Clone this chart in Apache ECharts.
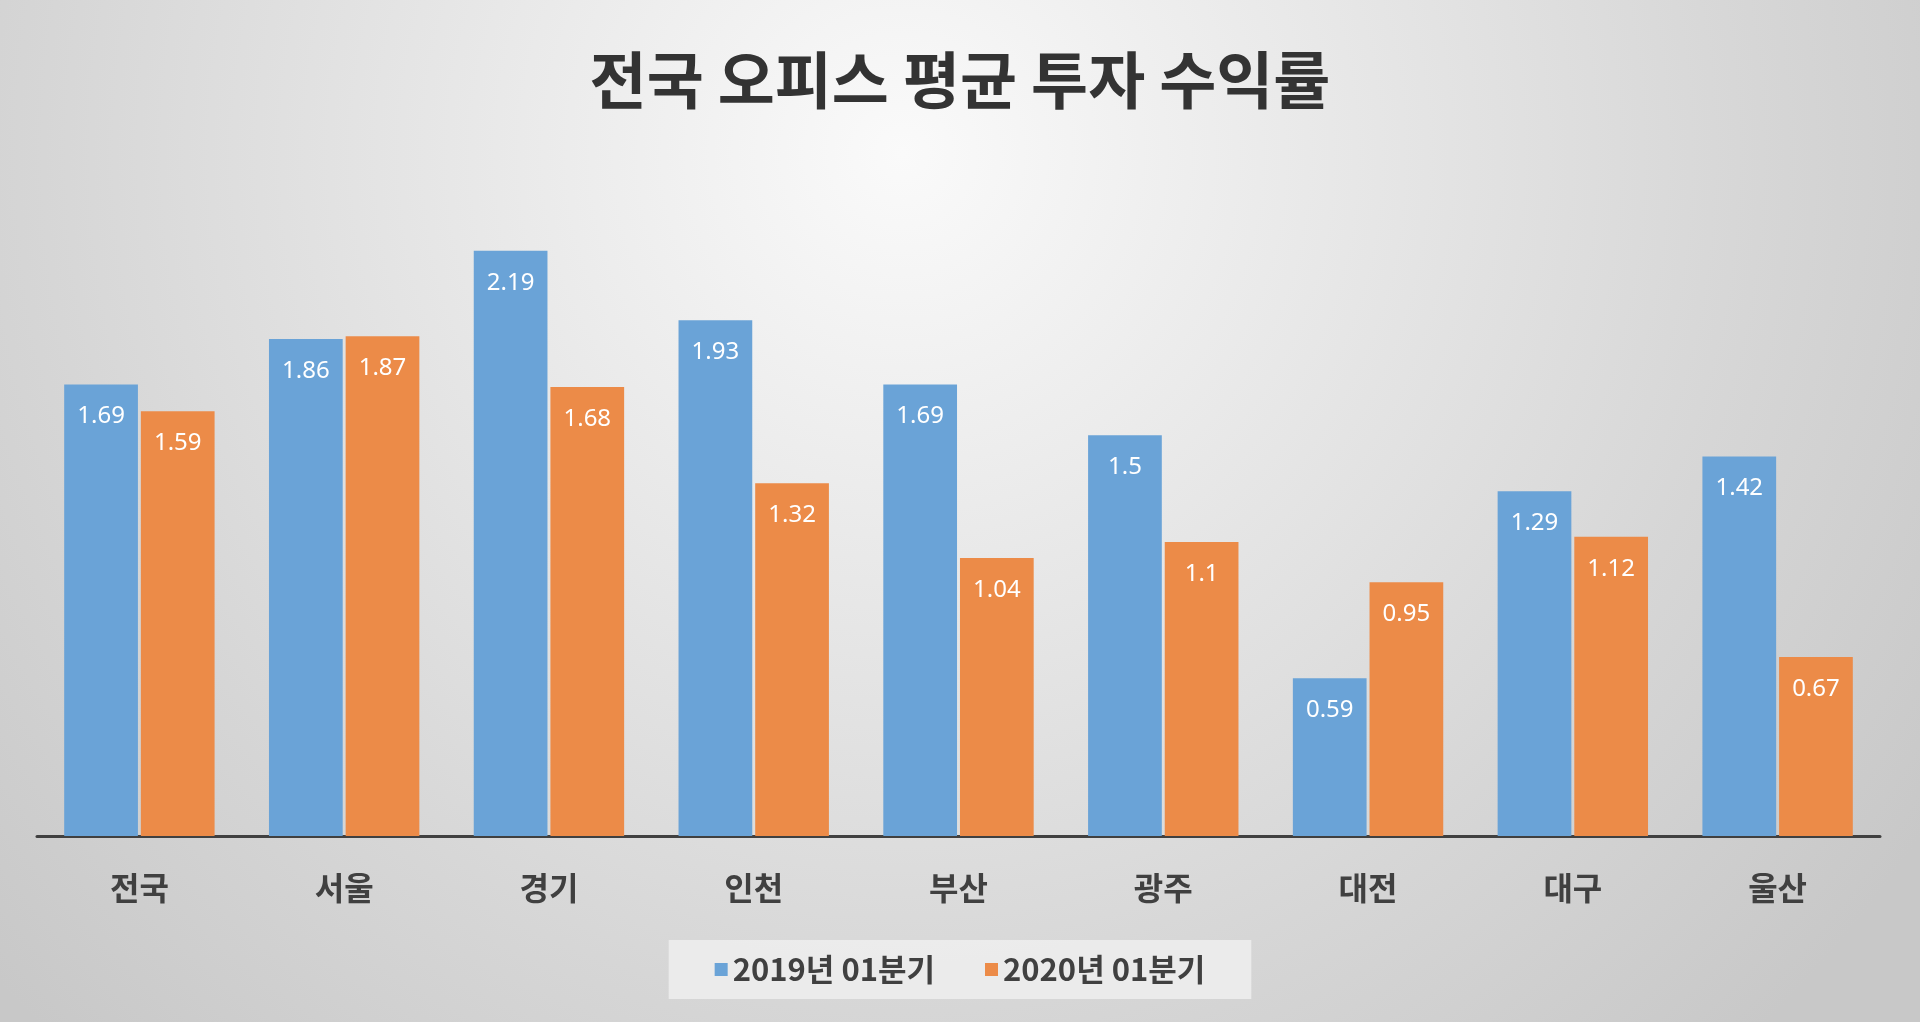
<!DOCTYPE html>
<html>
<head>
<meta charset="utf-8">
<script src="https://cdn.jsdelivr.net/npm/echarts@6/dist/echarts.min.js"></script>
<style>
html, body { margin: 0; padding: 0; width: 100%; height: 100%; overflow: hidden; }
#chart { width: 1920px; height: 1022px; }
</style>
</head>
<body>
<div id="chart"></div>
<script>
var regions = ['전국', '서울', '경기', '인천', '부산', '광주', '대전', '대구', '울산'];
var q2019 = [1.69, 1.86, 2.19, 1.93, 1.69, 1.5, 0.59, 1.29, 1.42];
var q2020 = [1.59, 1.87, 1.68, 1.32, 1.04, 1.1, 0.95, 1.12, 0.67];
var seriesNames = ['2019년 01분기', '2020년 01분기'];

var krFont = '"Noto Sans CJK KR", "Noto Sans", sans-serif';
var numFont = '"Liberation Sans Narrow", "Noto Sans", sans-serif';

var chart = echarts.init(document.getElementById('chart'));

var barLabel = {
    show: true,
    position: 'insideTop',
    distance: 20,
    color: '#ffffff',
    fontFamily: numFont,
    fontSize: 24
};

var option = {
    backgroundColor: {
        type: 'radial',
        x: 0.47, y: 0.15, r: 1.2,
        colorStops: [
            {offset: 0, color: '#fafafa'},
            {offset: 0.7, color: '#d6d6d6'},
            {offset: 1, color: '#c8c8c8'}
        ]
    },
    title: {
        text: '전국 오피스 평균 투자 수익률',
        left: 'center',
        top: 44,
        textStyle: {
            fontFamily: krFont,
            fontSize: 62,
            fontWeight: 'bold',
            color: '#333333'
        }
    },
    legend: {
        data: seriesNames,
        left: 'center',
        top: 940,
        icon: 'rect',
        itemWidth: 13,
        itemHeight: 13,
        itemGap: 50,
        padding: [14, 46],
        backgroundColor: 'rgba(238,238,238,0.85)',
        textStyle: {
            fontFamily: krFont,
            fontSize: 31,
            fontWeight: 'bold',
            color: '#404040'
        }
    },
    grid: {
        left: 37,
        right: 40,
        top: 168,
        bottom: 186
    },
    xAxis: {
        type: 'category',
        data: regions,
        axisLine: {lineStyle: {color: '#404040', width: 3}},
        axisTick: {show: false},
        axisLabel: {
            margin: 36,
            fontFamily: krFont,
            fontSize: 32,
            fontWeight: 'bold',
            color: '#404040'
        }
    },
    yAxis: {
        type: 'value',
        min: 0,
        max: 2.5,
        show: false,
        splitLine: {show: false}
    },
    series: [
        {
            name: seriesNames[0],
            type: 'bar',
            data: q2019,
            barWidth: '36%',
            barGap: '4%',
            itemStyle: {color: '#6aa3d7'},
            label: barLabel
        },
        {
            name: seriesNames[1],
            type: 'bar',
            data: q2020,
            barWidth: '36%',
            itemStyle: {color: '#ec8b48'},
            label: barLabel
        }
    ]
};

chart.setOption(option);
</script>
</body>
</html>
